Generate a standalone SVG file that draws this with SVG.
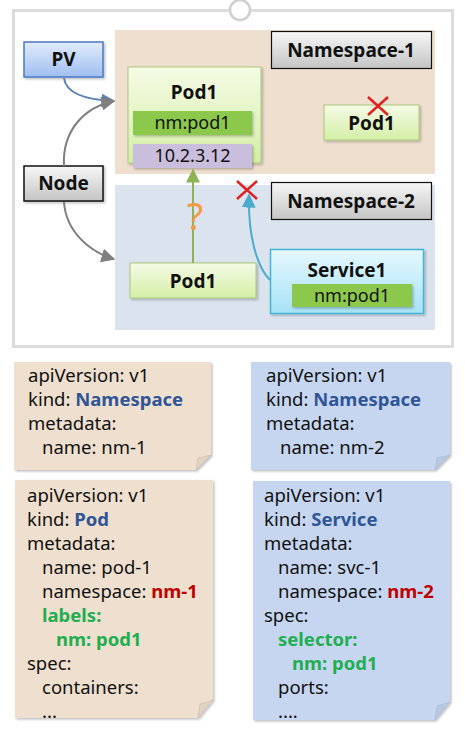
<svg xmlns="http://www.w3.org/2000/svg" width="465" height="740" viewBox="0 0 465 740">
<defs>
<linearGradient id="gPod" x1="0" y1="0" x2="0" y2="1"><stop offset="0" stop-color="#f5fbe6"/><stop offset="1" stop-color="#d4eea6"/></linearGradient>
<linearGradient id="gGray" x1="0" y1="0" x2="0" y2="1"><stop offset="0" stop-color="#f7f7f7"/><stop offset="1" stop-color="#c4c4c4"/></linearGradient>
<linearGradient id="gPV" x1="0" y1="0" x2="0" y2="1"><stop offset="0" stop-color="#e2ecfc"/><stop offset="1" stop-color="#9fbef0"/></linearGradient>
<linearGradient id="gSvc" x1="0" y1="0" x2="0" y2="1"><stop offset="0" stop-color="#e6f8fe"/><stop offset="1" stop-color="#a6e2f6"/></linearGradient>
<filter id="sh" x="-10%" y="-10%" width="130%" height="130%"><feDropShadow dx="1.5" dy="1.5" stdDeviation="1.2" flood-color="#000" flood-opacity="0.25"/></filter>
<marker id="aGray" viewBox="0 0 10 10" refX="9" refY="5" markerWidth="7" markerHeight="7" orient="auto"><path d="M0,0 L10,5 L0,10 z" fill="#7f7f7f"/></marker>
<marker id="aBlue" viewBox="0 0 10 10" refX="9" refY="5" markerWidth="7" markerHeight="7" orient="auto"><path d="M0,0 L10,5 L0,10 z" fill="#5b82b5"/></marker>
<marker id="aGreen" viewBox="0 0 10 10" refX="9" refY="5" markerWidth="7" markerHeight="7" orient="auto"><path d="M0,0 L10,5 L0,10 z" fill="#8db356"/></marker>
<marker id="aCyan" viewBox="0 0 10 10" refX="9" refY="5" markerWidth="7" markerHeight="7" orient="auto"><path d="M0,0 L10,5 L0,10 z" fill="#4aaccc"/></marker>
</defs>
<style>
text{font-family:"Noto Sans","Open Sans","Liberation Sans",sans-serif;fill:#111}
.lbl{font-size:19px;font-weight:bold;text-anchor:middle}
.tag{font-size:18px;text-anchor:middle}
.code{font-size:18.5px}
.kb{fill:#2f5597;font-weight:bold}
.kr{fill:#c00000;font-weight:bold}
.kg{fill:#1fae50;font-weight:bold}
.x{stroke:#e02020;stroke-width:2.5;fill:none}
</style>
<rect x="0" y="0" width="465" height="740" fill="#ffffff"/>
<rect x="13.5" y="10.5" width="439" height="336" fill="#ffffff" stroke="#dcdcdc" stroke-width="3"/>
<circle cx="240" cy="10" r="10" fill="#ffffff" stroke="#cfcfcf" stroke-width="2.5"/>

<g id="namespace1-area"><rect x="115" y="30" width="320" height="144" fill="#efdfcf"/></g>
<g id="namespace2-area"><rect x="115" y="185" width="320" height="145" fill="#dbe3ee"/></g>

<g id="ns1-label"><rect x="271.5" y="31.5" width="160" height="37" fill="url(#gGray)" stroke="#111" stroke-width="1.2"/><text class="lbl" x="351" y="57">Namespace-1</text></g>
<g id="ns2-label"><rect x="271.5" y="182.5" width="160" height="37" fill="url(#gGray)" stroke="#111" stroke-width="1.2"/><text class="lbl" x="351" y="208">Namespace-2</text></g>

<g id="pv"><rect x="24" y="42" width="79" height="35" fill="url(#gPV)" stroke="#4a78c0" stroke-width="1.5" filter="url(#sh)"/><text class="lbl" x="63.5" y="66">PV</text></g>
<g id="node"><rect x="24" y="166" width="79" height="35" fill="url(#gGray)" stroke="#111" stroke-width="1.5" filter="url(#sh)"/><text class="lbl" x="63.5" y="190">Node</text></g>

<g id="pod1-ns1">
<rect x="128" y="67" width="133" height="96" fill="url(#gPod)" stroke="#a9c87a" stroke-width="1" filter="url(#sh)"/>
<text class="lbl" x="194" y="99" font-size="20">Pod1</text>
<rect x="133" y="111" width="119" height="24" fill="#8cc84b" filter="url(#sh)"/>
<text class="tag" x="192.5" y="129">nm:pod1</text>
<rect x="133" y="144" width="119" height="24" fill="#c9bedb" filter="url(#sh)"/>
<text class="tag" x="192.5" y="162">10.2.3.12</text>
</g>

<g id="pod1-ns1-dup">
<rect x="324" y="105" width="95" height="35" fill="url(#gPod)" stroke="#a9c87a" stroke-width="1" filter="url(#sh)"/>
<text class="lbl" x="371.5" y="130">Pod1</text>
<path class="x" d="M368,97 L388,115 M388,97 L368,115"/>
</g>

<g id="pod1-ns2">
<rect x="130" y="263" width="126" height="35" fill="url(#gPod)" stroke="#a9c87a" stroke-width="1" filter="url(#sh)"/>
<text class="lbl" x="193" y="288">Pod1</text>
</g>

<g id="service1">
<rect x="270.5" y="249.5" width="153" height="64" fill="url(#gSvc)" stroke="#45b5d5" stroke-width="1.5" filter="url(#sh)"/>
<text class="lbl" x="347" y="277">Service1</text>
<rect x="292" y="284" width="120" height="23" fill="#8cc84b" filter="url(#sh)"/>
<text class="tag" x="352" y="301.5">nm:pod1</text>
</g>

<g id="connectors" fill="none" stroke-width="2">
<path d="M64,78 C66,95 90,100 114,101" stroke="#5b82b5" marker-end="url(#aBlue)"/>
<path d="M64,166 C62,130 85,107 114,101" stroke="#7f7f7f" marker-end="url(#aGray)"/>
<path d="M64,202 C66,232 90,252 114,259" stroke="#7f7f7f" marker-end="url(#aGray)"/>
<path d="M193,263 L193,170" stroke="#8db356" marker-end="url(#aGreen)"/>
<path d="M270,280 C255,265 248,230 249,195" stroke="#4aaccc" marker-end="url(#aCyan)"/>
</g>
<g id="marks">
<text x="195" y="230" font-size="38" text-anchor="middle" style="fill:#f39a45">?</text>
<path class="x" d="M237,181 L257,199 M257,181 L237,199"/>
</g>

<g id="note-ns1">
<path d="M14,362 H211 V455 L196,470 H14 Z" fill="#eedfcf" filter="url(#sh)"/>
<path d="M211,455 L196,470 L198,458 Z" fill="#e2d2c2" stroke="#c8b8a8" stroke-width="0.6"/>
<text class="code" x="28" y="382">apiVersion: v1</text>
<text class="code" x="28" y="406">kind: <tspan class="kb">Namespace</tspan></text>
<text class="code" x="28" y="430">metadata:</text>
<text class="code" x="42" y="454">name: nm-1</text>
</g>
<g id="note-ns2">
<path d="M251,362 H450 V455 L435,470 H251 Z" fill="#c6d6f0" filter="url(#sh)"/>
<path d="M450,455 L435,470 L437,458 Z" fill="#b8c8e2" stroke="#a8b8d2" stroke-width="0.6"/>
<text class="code" x="266" y="382">apiVersion: v1</text>
<text class="code" x="266" y="406">kind: <tspan class="kb">Namespace</tspan></text>
<text class="code" x="266" y="430">metadata:</text>
<text class="code" x="280" y="454">name: nm-2</text>
</g>
<g id="note-pod">
<path d="M15,480 H213 V700 L198,718 H15 Z" fill="#eedfcf" filter="url(#sh)"/>
<path d="M213,700 L198,718 L200,704 Z" fill="#e2d2c2" stroke="#c8b8a8" stroke-width="0.6"/>
<text class="code" x="27" y="502">apiVersion: v1</text>
<text class="code" x="27" y="526">kind: <tspan class="kb">Pod</tspan></text>
<text class="code" x="27" y="550">metadata:</text>
<text class="code" x="42" y="574">name: pod-1</text>
<text class="code" x="42" y="598">namespace: <tspan class="kr">nm-1</tspan></text>
<text class="code kg" x="42" y="622">labels:</text>
<text class="code kg" x="56" y="646">nm: pod1</text>
<text class="code" x="27" y="670">spec:</text>
<text class="code" x="42" y="694">containers:</text>
<text class="code" x="42" y="718">...</text>
</g>
<g id="note-service">
<path d="M253,481 H450 V702 L435,720 H253 Z" fill="#c6d6f0" filter="url(#sh)"/>
<path d="M450,702 L435,720 L437,706 Z" fill="#b8c8e2" stroke="#a8b8d2" stroke-width="0.6"/>
<text class="code" x="264" y="502">apiVersion: v1</text>
<text class="code" x="264" y="526">kind: <tspan class="kb">Service</tspan></text>
<text class="code" x="264" y="550">metadata:</text>
<text class="code" x="278" y="574">name: svc-1</text>
<text class="code" x="278" y="598">namespace: <tspan class="kr">nm-2</tspan></text>
<text class="code" x="264" y="622">spec:</text>
<text class="code kg" x="278" y="646">selector:</text>
<text class="code kg" x="292" y="670">nm: pod1</text>
<text class="code" x="278" y="694">ports:</text>
<text class="code" x="278" y="718">....</text>
</g>
</svg>
